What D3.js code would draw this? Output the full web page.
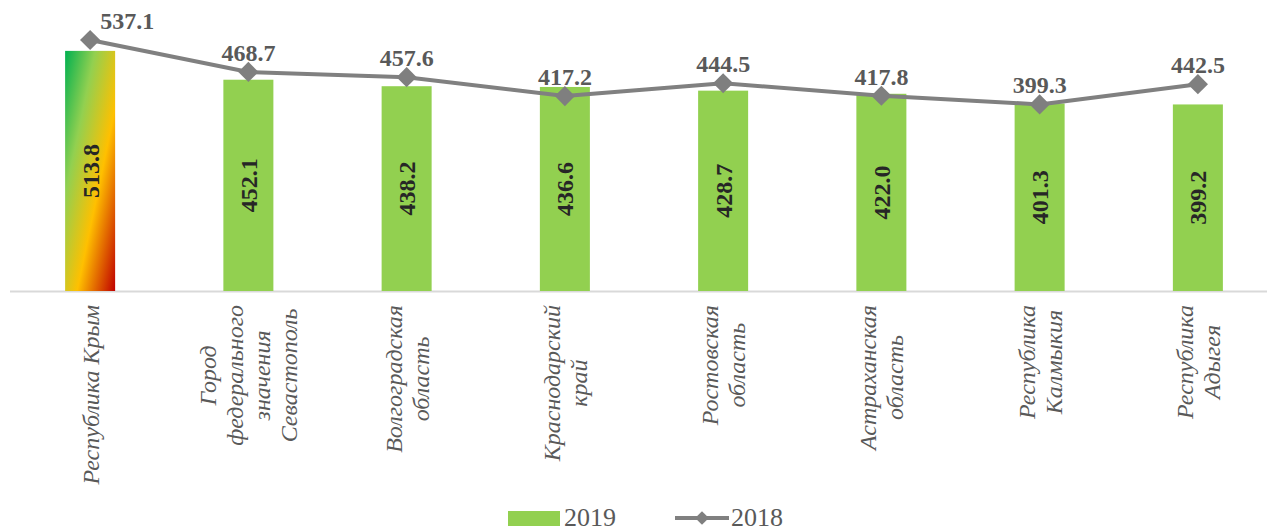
<!DOCTYPE html>
<html>
<head>
<meta charset="utf-8">
<script src="https://cdn.jsdelivr.net/npm/d3@7"></script>
<style>
  body { margin: 0; background: #fff; }
  text { font-family: 'Liberation Serif', 'DejaVu Serif', serif; }
</style>
</head>
<body>
<svg id="chart" width="1267" height="531"></svg>
<script>
// --- Daten ---
const regions = [
  ['Республика Крым'],
  ['Город', 'федерального', 'значения', 'Севастополь'],
  ['Волгоградская', 'область'],
  ['Краснодарский', 'край'],
  ['Ростовская', 'область'],
  ['Астраханская', 'область'],
  ['Республика', 'Калмыкия'],
  ['Республика', 'Адыгея']
];
const values2019 = [513.8, 452.1, 438.2, 436.6, 428.7, 422.0, 401.3, 399.2];
const values2018 = [537.1, 468.7, 457.6, 417.2, 444.5, 417.8, 399.3, 442.5];
const seriesNames = ['2019', '2018'];

const svg = d3.select('#chart');
const baseY = 291;
const serif = "'Liberation Serif', 'DejaVu Serif', serif";

const x = d3.scaleBand()
  .domain(d3.range(regions.length))
  .range([11, 1277])
  .paddingInner(0.684)
  .paddingOuter(0.342);

const y = d3.scaleLinear().domain([0, 600]).range([baseY, 10.6]);

// Verlauf für den ersten Balken
const defs = svg.append('defs');
const grad = defs.append('linearGradient')
  .attr('id', 'hot')
  .attr('x1', '0%').attr('y1', '0%')
  .attr('x2', '100%').attr('y2', '100%');
grad.append('stop').attr('offset', '0%').attr('stop-color', '#00b050');
grad.append('stop').attr('offset', '30%').attr('stop-color', '#92d050');
grad.append('stop').attr('offset', '62%').attr('stop-color', '#ffc000');
grad.append('stop').attr('offset', '100%').attr('stop-color', '#c00000');

// Achsenlinie
svg.append('line')
  .attr('x1', 10).attr('x2', 1267)
  .attr('y1', baseY + 0.5).attr('y2', baseY + 0.5)
  .style('stroke', '#d9d9d9')
  .style('stroke-width', 2);

// Balken 2019
svg.selectAll('.bar')
  .data(values2019)
  .join('rect')
  .attr('class', 'bar')
  .attr('x', (d, i) => x(i))
  .attr('y', d => y(d))
  .attr('width', x.bandwidth())
  .attr('height', d => baseY - y(d))
  .style('fill', (d, i) => i === 0 ? 'url(#hot)' : '#92d050');

// Werte in den Balken
svg.selectAll('.bar-label')
  .data(values2019)
  .join('text')
  .attr('class', 'bar-label')
  .attr('transform', (d, i) => {
    const cx = x(i) + x.bandwidth() / 2;
    const cy = (y(d) + baseY) / 2;
    return `translate(${cx},${cy}) rotate(-90)`;
  })
  .attr('text-anchor', 'middle')
  .attr('dy', '0.35em')
  .attr('font-family', serif)
  .style('font-size', '24px')
  .style('font-weight', 'bold')
  .style('fill', '#262626')
  .text(d => d.toFixed(1));

// Linie 2018
const cx = i => x(i) + x.bandwidth() / 2;
const line = d3.line()
  .x((d, i) => cx(i))
  .y(d => y(d));

svg.append('path')
  .datum(values2018)
  .attr('d', line)
  .style('fill', 'none')
  .style('stroke', '#808080')
  .style('stroke-width', 4)
  .style('stroke-linejoin', 'round');

const diamond = d3.symbol().type(d3.symbolDiamond2).size(260);
svg.selectAll('.marker')
  .data(values2018)
  .join('path')
  .attr('class', 'marker')
  .attr('d', diamond)
  .attr('transform', (d, i) => `translate(${cx(i)},${y(d)})`)
  .style('fill', '#7f7f7f');

// erstes Label sitzt rechts neben dem Marker (sonst am Rand)
svg.selectAll('.line-label')
  .data(values2018)
  .join('text')
  .attr('class', 'line-label')
  .attr('x', (d, i) => i === 0 ? cx(i) + 10 : cx(i))
  .attr('y', d => y(d) - 11)
  .attr('text-anchor', (d, i) => i === 0 ? 'start' : 'middle')
  .attr('font-family', serif)
  .style('font-size', '24px')
  .style('font-weight', 'bold')
  .style('fill', '#595959')
  .text(d => d.toFixed(1));

// Kategorienbeschriftungen (gedreht)
const lineStep = 27;
regions.forEach((lines, i) => {
  const g = svg.append('g');
  const texts = g.selectAll('text')
    .data(lines)
    .join('text')
    .attr('text-anchor', 'middle')
    .attr('font-family', serif)
    .style('font-size', '24px')
    .style('font-style', 'italic')
    .style('fill', '#595959')
    .text(d => d);
  let maxW = 0;
  texts.each(function () { maxW = Math.max(maxW, this.getComputedTextLength()); });
  const blockCenterY = baseY + 14 + maxW / 2;
  const n = lines.length;
  texts
    .attr('x', 0)
    .attr('y', (d, j) => (j - (n - 1) / 2) * lineStep)
    .attr('dy', '0.35em');
  g.attr('transform', `translate(${cx(i)},${blockCenterY}) rotate(-90)`);
});

// Legende
const legend = svg.append('g');
legend.append('rect')
  .attr('x', 508).attr('y', 511)
  .attr('width', 52).attr('height', 15)
  .style('fill', '#92d050');
legend.append('text')
  .attr('x', 564).attr('y', 526)
  .attr('font-family', serif)
  .style('font-size', '26px')
  .style('fill', '#595959')
  .text(seriesNames[0]);
legend.append('line')
  .attr('x1', 675).attr('x2', 729)
  .attr('y1', 518).attr('y2', 518)
  .style('stroke', '#808080')
  .style('stroke-width', 4);
legend.append('path')
  .attr('d', d3.symbol().type(d3.symbolDiamond2).size(120))
  .attr('transform', 'translate(702,518)')
  .style('fill', '#7f7f7f');
legend.append('text')
  .attr('x', 731).attr('y', 526)
  .attr('font-family', serif)
  .style('font-size', '26px')
  .style('fill', '#595959')
  .text(seriesNames[1]);
</script>
</body>
</html>
